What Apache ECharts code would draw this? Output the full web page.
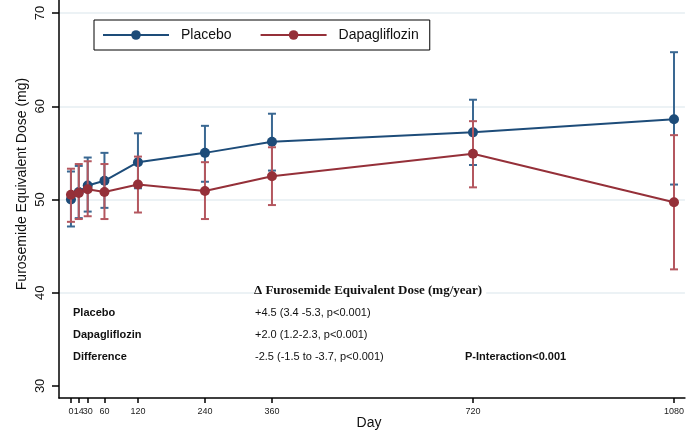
<!DOCTYPE html>
<html><head><meta charset="utf-8">
<script src="https://cdn.jsdelivr.net/npm/echarts@6/dist/echarts.min.js"></script>
<style>html,body{margin:0;padding:0;background:#fff}#c{width:687px;height:430px}</style>
</head><body><div id="c"></div>
<script>
const days = [0, 14, 30, 60, 120, 240, 360, 720, 1080];
const placeboMean = [50.0, 50.8, 51.5, 52.0, 54.0, 55.0, 56.2, 57.2, 58.6];
const placeboLow  = [47.1, 48.0, 48.7, 49.1, 51.2, 51.9, 53.1, 53.7, 51.6];
const placeboHigh = [53.0, 53.6, 54.5, 55.0, 57.1, 57.9, 59.2, 60.7, 65.8];
const dapaMean = [50.5, 50.7, 51.1, 50.8, 51.6, 50.9, 52.5, 54.9, 49.7];
const dapaLow  = [47.6, 47.9, 48.2, 47.9, 48.6, 47.9, 49.4, 51.3, 42.5];
const dapaHigh = [53.3, 53.8, 54.1, 53.8, 54.6, 54.0, 55.6, 58.4, 56.9];
const yTicks = [30, 40, 50, 60, 70];
const xTicks = [0, 14, 30, 60, 120, 240, 360, 720, 1080];
const seriesNames = ['Placebo', 'Dapagliflozin'];
const tableHeader = '\u0394 Furosemide Equivalent Dose (mg/year)';
const tableRows = ['Placebo', 'Dapagliflozin', 'Difference'];
const tableValues = ['+4.5 (3.4 -5.3, p<0.001)', '+2.0 (1.2-2.3, p<0.001)', '-2.5 (-1.5 to -3.7, p<0.001)'];
const interactionText = 'P-Interaction<0.001';

const BLUE = '#1d4c79', BLUE_ERR = '#3a6892';
const RED = '#953039', RED_ERR = '#b4575f';

function pairs(a) { return days.map((d, i) => [d, a[i]]); }
function errData(lo, hi) { return days.map((d, i) => [d, lo[i], hi[i]]); }
function errRender(color) {
  return function (params, api) {
    const x = api.value(0);
    const pLo = api.coord([x, api.value(1)]);
    const pHi = api.coord([x, api.value(2)]);
    const hw = 4;
    const st = { stroke: color, lineWidth: 2 };
    return { type: 'group', children: [
      { type: 'line', shape: { x1: pLo[0], y1: pLo[1], x2: pHi[0], y2: pHi[1] }, style: st },
      { type: 'line', shape: { x1: pLo[0] - hw, y1: pLo[1], x2: pLo[0] + hw, y2: pLo[1] }, style: st },
      { type: 'line', shape: { x1: pHi[0] - hw, y1: pHi[1], x2: pHi[0] + hw, y2: pHi[1] }, style: st }
    ]};
  };
}

const FONT = 'Liberation Sans';
const graphics = [
  { type: 'text', x: 22, y: 184, rotation: Math.PI / 2,
    style: { text: 'Furosemide Equivalent Dose (mg)', font: '14px "Liberation Sans"', fill: '#111', textAlign: 'center', textVerticalAlign: 'middle' } },
  { type: 'text', x: 369, y: 416,
    style: { text: 'Day', font: '14px "Liberation Sans"', fill: '#111', textAlign: 'center', textVerticalAlign: 'top' } },
  { type: 'text', x: 254, y: 291, z: 10,
    style: { text: tableHeader, font: 'bold 13px "Liberation Serif"', fill: '#111', textVerticalAlign: 'middle',
      backgroundColor: '#fff', padding: [2, 4, 2, 0] } },
  { type: 'text', x: 465, y: 357,
    style: { text: interactionText, font: 'bold 11px "Liberation Sans"', fill: '#111', textVerticalAlign: 'middle' } }
];
tableRows.forEach((r, i) => {
  graphics.push({ type: 'text', x: 73, y: 313 + i * 22,
    style: { text: r, font: 'bold 11px "Liberation Sans"', fill: '#111', textVerticalAlign: 'middle' } });
  graphics.push({ type: 'text', x: 255, y: 313 + i * 22,
    style: { text: tableValues[i], font: '11px "Liberation Sans"', fill: '#111', textVerticalAlign: 'middle' } });
});

const chart = echarts.init(document.getElementById('c'), null, { renderer: 'canvas' });
chart.setOption({
  animation: false,
  backgroundColor: '#fff',
  grid: { left: 59, right: 0, top: 0, bottom: 32, containLabel: false },
  legend: {
    data: seriesNames, left: 94, top: 20, itemWidth: 66, itemHeight: 12, itemGap: 28,
    padding: [8, 11, 8, 8], borderColor: '#000', borderWidth: 1, backgroundColor: '#fff',
    textStyle: { fontFamily: FONT, fontSize: 14, color: '#111', padding: [0, 0, 0, 7] }
  },
  xAxis: {
    type: 'value', min: -21.4, max: 1099.6,
    axisLine: { show: true, onZero: false, lineStyle: { color: '#000', width: 1.5 } },
    axisTick: { show: true, customValues: xTicks, length: 5, lineStyle: { color: '#000', width: 1.5 } },
    axisLabel: { customValues: xTicks, formatter: v => String(v), fontFamily: FONT, fontSize: 9, color: '#222', margin: 9 },
    splitLine: { show: false }
  },
  yAxis: {
    type: 'value', min: 28.7, max: 71.4,
    axisLine: { show: true, onZero: false, lineStyle: { color: '#000', width: 1.5 } },
    axisTick: { show: true, customValues: yTicks, length: 7, lineStyle: { color: '#000', width: 1.5 } },
    axisLabel: { customValues: yTicks, rotate: 90, fontFamily: FONT, fontSize: 13, color: '#111', margin: 12 },
    splitLine: { show: true, showMinLine: false, lineStyle: { color: '#e6eef2', width: 1.5 } }
  },
  graphic: graphics,
  series: [
    { name: 'Placebo CI', type: 'custom', renderItem: errRender(BLUE_ERR), data: errData(placeboLow, placeboHigh), z: 2, silent: true },
    { name: 'Placebo', type: 'line', data: pairs(placeboMean), color: BLUE, symbol: 'circle', symbolSize: 10,
      lineStyle: { color: BLUE, width: 2 }, itemStyle: { color: BLUE }, z: 3 },
    { name: 'Dapagliflozin CI', type: 'custom', renderItem: errRender(RED_ERR), data: errData(dapaLow, dapaHigh), z: 4, silent: true },
    { name: 'Dapagliflozin', type: 'line', data: pairs(dapaMean), color: RED, symbol: 'circle', symbolSize: 10,
      lineStyle: { color: RED, width: 2 }, itemStyle: { color: RED }, z: 5 }
  ]
});
</script></body></html>
